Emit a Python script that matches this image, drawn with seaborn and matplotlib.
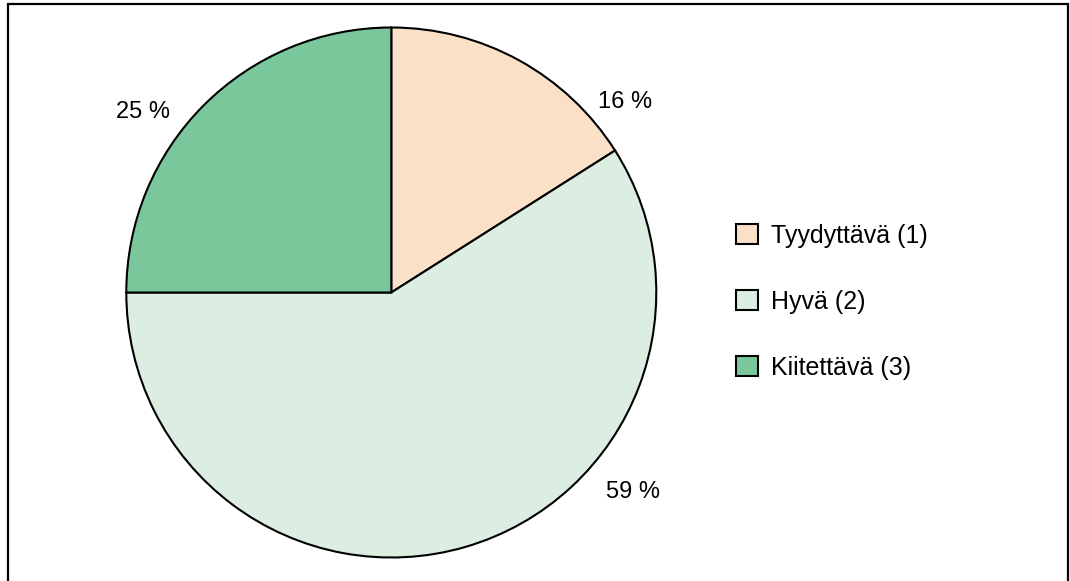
import seaborn            as sns
import matplotlib.pyplot  as plt
from matplotlib.patches import Rectangle


# DATA
categories = ['Tyydyttävä (1)', 'Hyvä (2)', 'Kiitettävä (3)']
shares     = [16, 59, 25]
pct_labels = ['16 %', '59 %', '25 %']
# label spots in pie units (Excel "best fit" places them freely)
label_xy   = [(0.882, 0.72), (0.912, -0.752), (-0.937, 0.683)]

sns.set_theme(style='white')
plt.rcParams['font.family'] = ['Liberation Sans', 'DejaVu Sans']

colors = sns.color_palette(['#FAE0C6', '#DCEDE2', '#7AC79B'])

fig = plt.figure(figsize=(10.70, 5.81), dpi=100)
# pie centre ~ (391, 292) px, radius ~ 265 px
ax = fig.add_axes([(391.3 - 265) / 1070, (581 - 292.5 - 265) / 581, 530 / 1070, 530 / 581])

wedges, _ = ax.pie(
    shares,
    colors        = colors,
    startangle    = 90,
    counterclock  = False,
    radius        = 1,
    wedgeprops    = {'edgecolor': 'black', 'linewidth': 1.5},
)
ax.set_xlim(-1, 1)
ax.set_ylim(-1, 1)
ax.set_aspect('equal')
ax.axis('off')

for txt, (x, y) in zip(pct_labels, label_xy):
    ax.text(x, y, txt, ha='center', va='center', fontsize=17, color='black')

fig.legend(
    wedges, categories,
    loc            = 'center left',
    bbox_to_anchor = (713.5 / 1070, 1 - 301.5 / 581),
    frameon        = False,
    fontsize       = 18,
    labelcolor     = 'black',
    handlelength   = 0.88,
    handleheight   = 0.88,
    handletextpad  = 0.52,
    labelspacing   = 1.68,
)

# chart-area frame (bottom edge falls outside the picture)
fig.patches.append(Rectangle((7.5 / 1070, -0.05), 1060 / 1070, 1.05 - 4.5 / 581,
                             transform=fig.transFigure, fill=False,
                             edgecolor='black', linewidth=1.6))

fig.savefig('out.png', dpi=100, facecolor='white')
